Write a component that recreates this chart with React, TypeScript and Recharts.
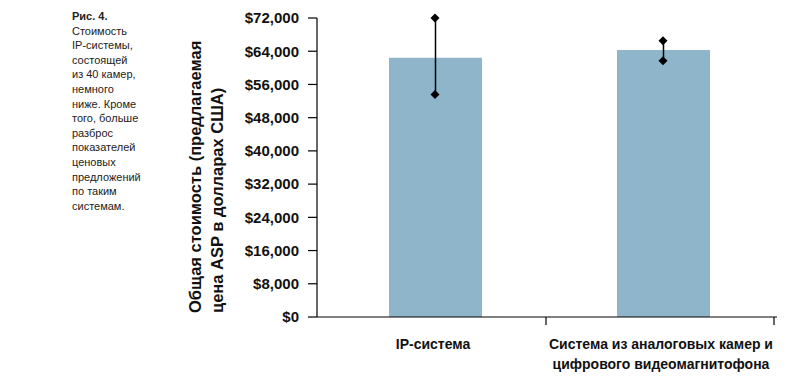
import React from "react";
import { ComposedChart, Bar, ErrorBar, Scatter, XAxis, YAxis, Label } from "recharts";

const categories = ["IP-система", "Система из аналоговых камер и\nцифрового видеомагнитофона"];
const costValues = [62400, 64300];
const lowValues = [53600, 61700];
const highValues = [72000, 66500];
const yTicks = [0, 8000, 16000, 24000, 32000, 40000, 48000, 56000, 64000, 72000];
const yLabelLines = ["Общая стоимость (предлагаемая", "цена ASP в долларах США)"];
const captionTitle = "Рис. 4.";
const captionLines = [
  "Стоимость",
  "IP-системы,",
  "состоящей",
  "из 40 камер,",
  "немного",
  "ниже. Кроме",
  "того, больше",
  "разброс",
  "показателей",
  "ценовых",
  "предложений",
  "по таким",
  "системам.",
];

const data = categories.map((c, i) => ({
  name: c,
  cost: costValues[i],
  low: lowValues[i],
  high: highValues[i],
  err: [costValues[i] - lowValues[i], highValues[i] - costValues[i]],
}));

const W = 801;
const H = 386;
const M = { top: 18, right: 24, bottom: 0, left: 0 };
const X_PAD_LEFT = 4;
const X_AXIS_H = 69;
const Y_AXIS_W = 317;
const BAND = (W - M.right - Y_AXIS_W - X_PAD_LEFT) / categories.length;
const FONT = "'Liberation Sans', Arial, Helvetica, sans-serif";

const fmt = (v: number) => "$" + v.toLocaleString("en-US");

const XTick = (props: any) => {
  const { x, y, payload } = props;
  const lines = String(payload.value).split("\n");
  const edge = x + BAND / 2 - 3;
  return (
    <g>
      <line x1={edge} x2={edge} y1={y - 8} y2={y} stroke="#000" strokeWidth={1.2} />
      {lines.map((l, i) => (
        <text
          key={i}
          x={x - 2}
          y={y + 24 + i * 20}
          textAnchor="middle"
          fontFamily={FONT}
          fontWeight="bold"
          fontSize={14}
          fill="#111"
        >
          {l}
        </text>
      ))}
    </g>
  );
};

const Diamond = (props: any) => {
  const { cx, cy } = props;
  const r = 4.5;
  return <polygon points={`${cx},${cy - r} ${cx + r},${cy} ${cx},${cy + r} ${cx - r},${cy}`} fill="#000" />;
};

const YLabel = (props: any) => {
  const bottom = 313;
  const xs = [195, 217];
  return (
    <g>
      {yLabelLines.map((l, i) => (
        <text
          key={i}
          x={xs[i]}
          y={bottom}
          transform={`rotate(-90 ${xs[i]} ${bottom})`}
          textAnchor="start"
          dominantBaseline="central"
          fontFamily={FONT}
          fontWeight="bold"
          fontSize={16.5}
          fill="#111"
        >
          {l}
        </text>
      ))}
    </g>
  );
};

export default function App() {
  return (
    <div style={{ position: "absolute", left: 0, top: 0, width: W, height: H, background: "#fff" }}>
      <div
        style={{
          position: "absolute",
          left: 72,
          top: 9,
          fontFamily: "'Liberation Sans Narrow', 'Liberation Sans', Arial, sans-serif",
          fontSize: 11,
          lineHeight: "14.6px",
          color: "#222",
        }}
      >
        <div style={{ fontWeight: "bold" }}>{captionTitle}</div>
        {captionLines.map((l, i) => (
          <div key={i}>{l}</div>
        ))}
      </div>
      <ComposedChart width={W} height={H} data={data} margin={M} style={{ position: "absolute", left: 0, top: 0 }}>
        <XAxis
          dataKey="name"
          tick={<XTick />}
          tickLine={false}
          axisLine={{ stroke: "#000", strokeWidth: 1.2 }}
          interval={0}
          height={X_AXIS_H}
          padding={{ left: X_PAD_LEFT, right: 0 }}
        />
        <YAxis
          width={Y_AXIS_W}
          domain={[0, 72000]}
          ticks={yTicks}
          tickFormatter={fmt}
          tickSize={9}
          tickMargin={9}
          interval={0}
          axisLine={{ stroke: "#000", strokeWidth: 1.2 }}
          tickLine={{ stroke: "#000", strokeWidth: 1.2 }}
          tick={{ fill: "#111", fontFamily: FONT, fontWeight: "bold", fontSize: 15 }}
        >
          <Label content={<YLabel />} />
        </YAxis>
        <Bar dataKey="cost" fill="#8FB5CA" barSize={93} isAnimationActive={false}>
          <ErrorBar dataKey="err" width={0} stroke="#000" strokeWidth={1.5} />
        </Bar>
        <Scatter dataKey="high" shape={<Diamond />} isAnimationActive={false} />
        <Scatter dataKey="low" shape={<Diamond />} isAnimationActive={false} />
      </ComposedChart>
    </div>
  );
}
